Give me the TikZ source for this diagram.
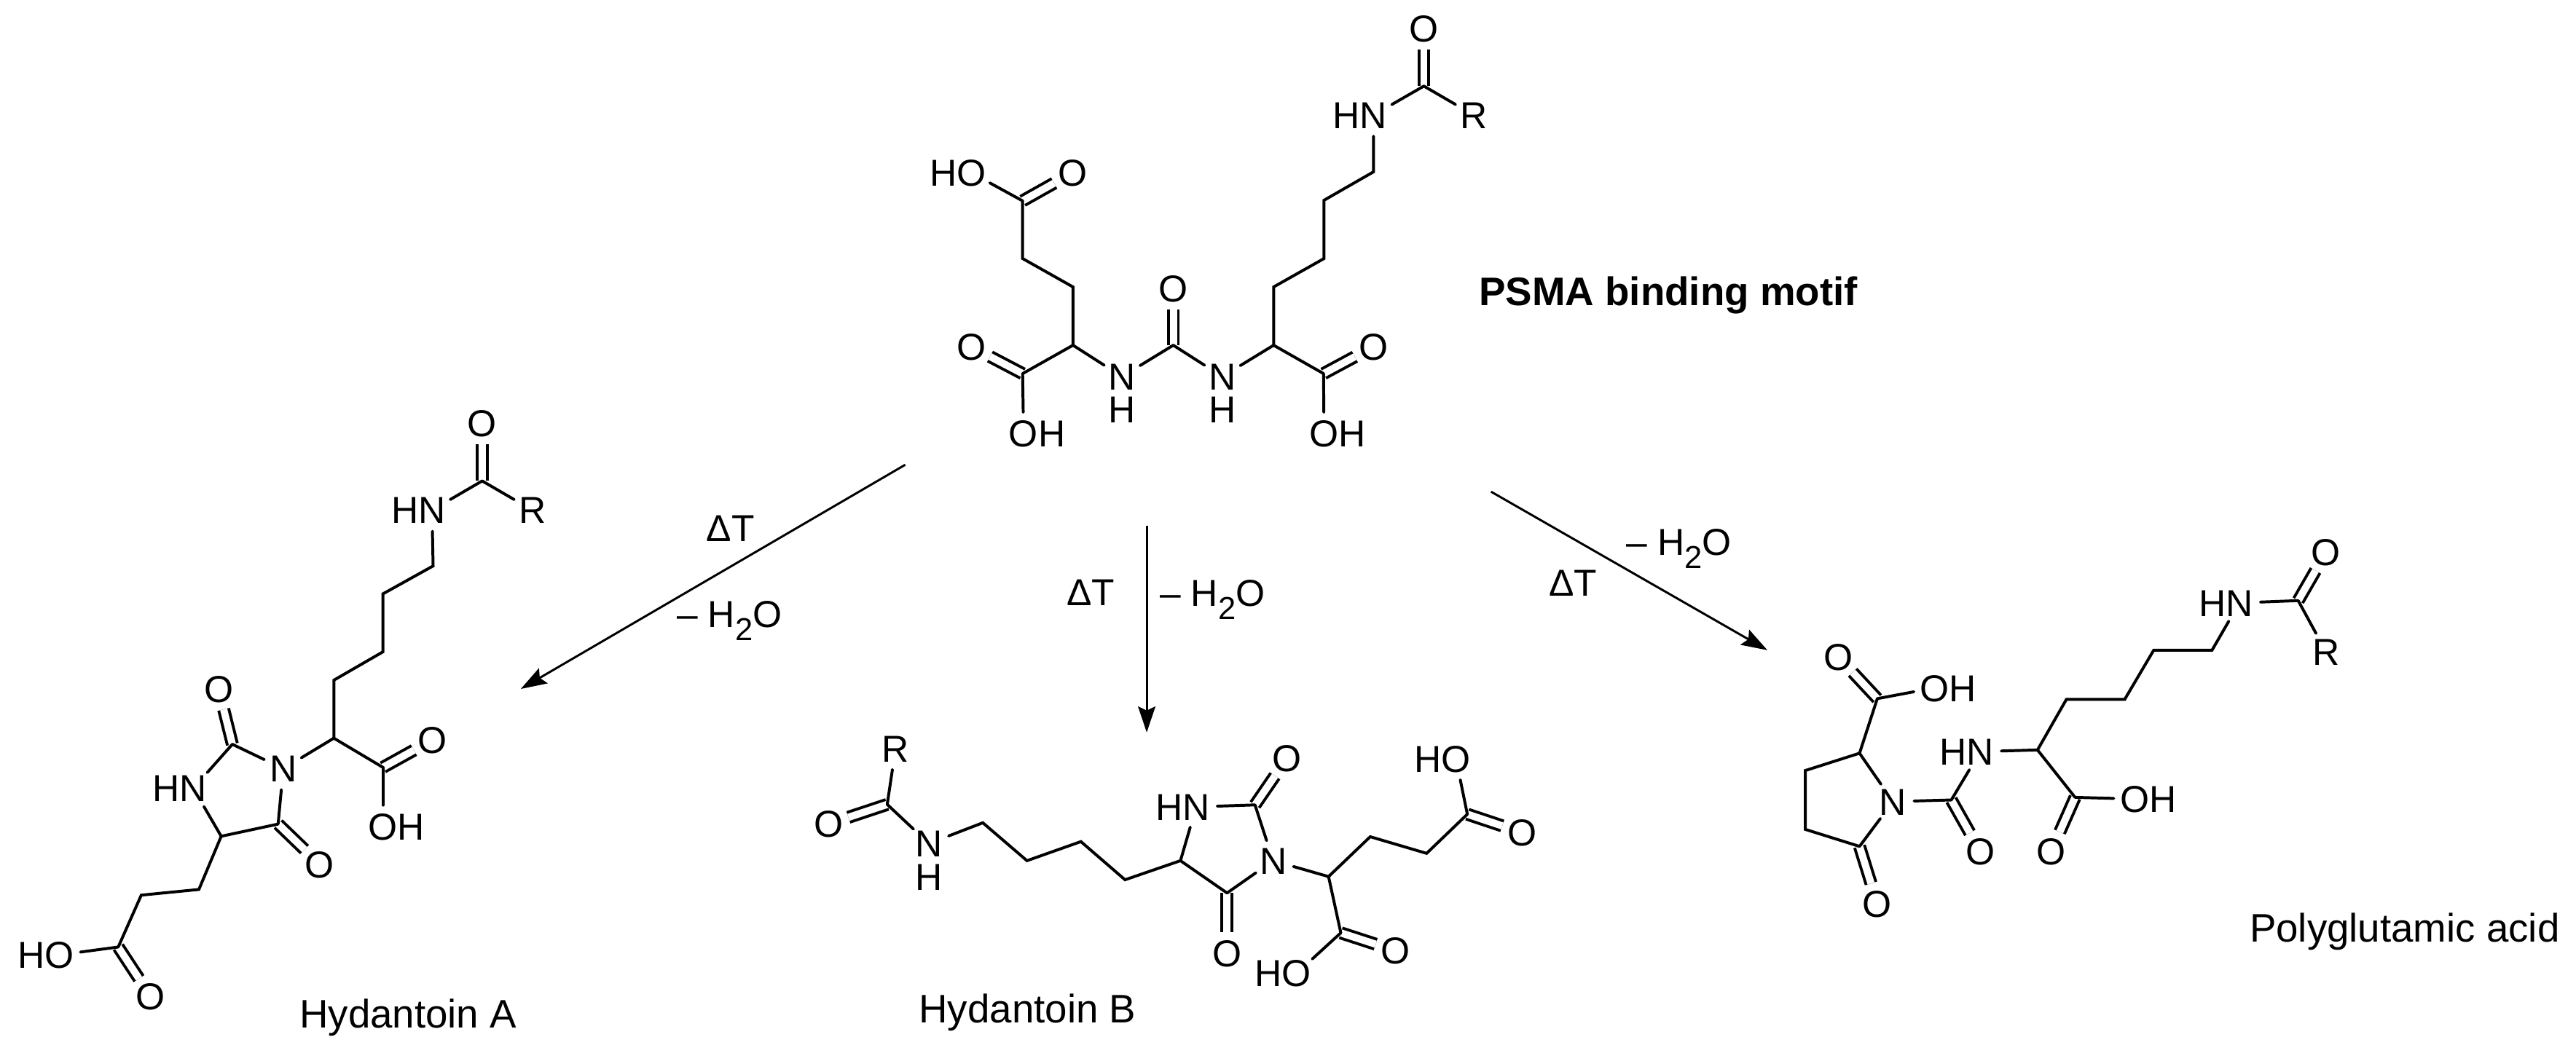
\documentclass[tikz,border=0pt]{standalone}
\usepackage{fontspec}
\setmainfont{Liberation Sans}
\usetikzlibrary{arrows.meta}
\newcommand{\watersub}{H\raisebox{-0.35em}{\fontsize{11}{11}\selectfont 2}O}
\tikzset{
  x=0.02cm, y=-0.02cm,
  atom/.style={circle, inner sep=0pt, minimum size=0.5cm, font=\fontsize{13}{13}\selectfont, text height=9.3pt, text depth=0pt},
  bond/.style={line width=1pt, line cap=round},
  dbl/.style={line width=1pt, double, double distance=2.5pt, line cap=butt},
  rxn/.style={line width=0.75pt, -{Stealth[length=9pt,width=6pt,inset=1.4pt]}},
  cond/.style={inner sep=0pt, font=\fontsize{13}{13}\selectfont},
  caption/.style={inner sep=0pt, font=\fontsize{13.8}{14}\selectfont, anchor=base west},
  mol/.style n args={4}{x=#1*0.02cm, y=-#2*0.02cm, shift={(#3*0.02cm,-#4*0.02cm)}}
}
\begin{document}
\begin{tikzpicture}
\useasboundingbox (0,0) rectangle (1568,636);

% ---------- PSMA binding motif
\begin{scope}[mol={0.284}{0.182}{554.3}{0}]
\node[atom] (aO1) at (1100,95) {O};
\node[atom] (aN1) at (992,385) {\llap{H}N};
\node[atom] (aR) at (1207,385) {R};
\node[atom] (aO2) at (992,1160) {O};
\node[atom] (aOH2) at (886,1450) {O\rlap{H}};
\node[atom] (aN2) at (668,1260) {N};
\node[atom] (aH2) at (668,1370) {H};
\node[atom] (aO3) at (563,965) {O};
\node[atom] (aN3) at (453,1260) {N};
\node[atom] (aH3) at (453,1370) {H};
\node[atom] (aO4) at (347,578) {O};
\node[atom] (aOH4) at (130,578) {\llap{H}O};
\node[atom] (aO5) at (130,1160) {O};
\node[atom] (aOH5) at (242,1450) {O\rlap{H}};
\coordinate (aC1) at (1100,288);
\coordinate (ac2) at (992,575);
\coordinate (ac3) at (886,670);
\coordinate (ac4) at (886,865);
\coordinate (ac5) at (778,960);
\coordinate (ac6) at (778,1155);
\coordinate (ac7) at (885,1250);
\coordinate (ac8) at (563,1155);
\coordinate (ac9) at (348,1155);
\coordinate (ac10) at (348,960);
\coordinate (ac11) at (240,865);
\coordinate (ac12) at (240,672);
\coordinate (ac13) at (240,1250);
\draw[dbl] (aC1) -- (aO1);
\draw[dbl] (ac7) -- (aO2);
\draw[dbl] (ac8) -- (aO3);
\draw[dbl] (ac12) -- (aO4);
\draw[dbl] (ac13) -- (aO5);
\draw[bond] (aN1) -- (aC1);
\draw[bond] (aC1) -- (aR);
\draw[bond] (aN1) -- (ac2) -- (ac3) -- (ac4) -- (ac5) -- (ac6) -- (ac7);
\draw[bond] (ac7) -- (aOH2);
\draw[bond] (ac6) -- (aN2);
\draw[bond] (aN2) -- (ac8);
\draw[bond] (ac8) -- (aN3);
\draw[bond] (aN3) -- (ac9);
\draw[bond] (ac9) -- (ac10) -- (ac11) -- (ac12);
\draw[bond] (ac12) -- (aOH4);
\draw[bond] (ac9) -- (ac13);
\draw[bond] (ac13) -- (aOH5);
\end{scope}

% ---------- Hydantoin A
\begin{scope}[mol={0.2263}{0.2655}{0}{221.7}]
\node[atom] (bO1) at (1297,135) {O};
\node[atom] (bN1) at (1162,335) {\llap{H}N};
\node[atom] (bR) at (1432,335) {R};
\node[atom] (bO2) at (1163,862) {O};
\node[atom] (bOH2) at (1030,1060) {O\rlap{H}};
\node[atom] (bN2) at (762,928) {N};
\node[atom] (bO3) at (588,745) {O};
\node[atom] (bN3) at (520,973) {\llap{H}N};
\node[atom] (bO4) at (860,1147) {O};
\node[atom] (bOH5) at (160,1355) {\llap{H}O};
\node[atom] (bO5) at (405,1450) {O};
\coordinate (bC1) at (1297,268);
\coordinate (bc2) at (1165,463);
\coordinate (bc3) at (1030,527);
\coordinate (bc4) at (1030,660);
\coordinate (bc5) at (898,725);
\coordinate (bc6) at (898,858);
\coordinate (bc7) at (1030,925);
\coordinate (bc8) at (625,872);
\coordinate (bc9) at (595,1083);
\coordinate (bc10) at (748,1055);
\coordinate (bc11) at (535,1205);
\coordinate (bc12) at (380,1218);
\coordinate (bc13) at (318,1337);
\draw[dbl] (bC1) -- (bO1);
\draw[dbl] (bc7) -- (bO2);
\draw[dbl] (bc8) -- (bO3);
\draw[dbl] (bc10) -- (bO4);
\draw[dbl] (bc13) -- (bO5);
\draw[bond] (bN1) -- (bC1);
\draw[bond] (bC1) -- (bR);
\draw[bond] (bN1) -- (bc2) -- (bc3) -- (bc4) -- (bc5) -- (bc6) -- (bc7);
\draw[bond] (bc7) -- (bOH2);
\draw[bond] (bc6) -- (bN2);
\draw[bond] (bN2) -- (bc8);
\draw[bond] (bc8) -- (bN3);
\draw[bond] (bN3) -- (bc9);
\draw[bond] (bc9) -- (bc10);
\draw[bond] (bc10) -- (bN2);
\draw[bond] (bc9) -- (bc11) -- (bc12) -- (bc13);
\draw[bond] (bc13) -- (bOH5);
\end{scope}

% ---------- Hydantoin B
\begin{scope}[mol={0.2985}{0.149}{487.8}{421.3}]
\node[atom] (cR) at (192,232) {R};
\node[atom] (cO1) at (55,540) {O};
\node[atom] (cN1) at (260,620) {N};
\node[atom] (cH1) at (260,755) {H};
\node[atom] (cN2) at (805,470) {\llap{H}N};
\node[atom] (cO2) at (990,272) {O};
\node[atom] (cN3) at (962,690) {N};
\node[atom] (cO3) at (868,1068) {O};
\node[atom] (cO4) at (1212,1058) {O};
\node[atom] (cOH4) at (1010,1150) {\llap{H}O};
\node[atom] (cO5) at (1470,575) {O};
\node[atom] (cOH5) at (1335,275) {\llap{H}O};
\coordinate (cC1) at (175,460);
\coordinate (cc2) at (370,535);
\coordinate (cc3) at (460,690);
\coordinate (cc4) at (570,612);
\coordinate (cc5) at (660,768);
\coordinate (cc6) at (773,690);
\coordinate (cc7) at (925,462);
\coordinate (cc8) at (868,822);
\coordinate (cc9) at (1075,755);
\coordinate (cc10) at (1100,985);
\coordinate (cc11) at (1160,592);
\coordinate (cc12) at (1275,660);
\coordinate (cc13) at (1358,500);
\draw[dbl] (cC1) -- (cO1);
\draw[dbl] (cc7) -- (cO2);
\draw[dbl] (cc8) -- (cO3);
\draw[dbl] (cc10) -- (cO4);
\draw[dbl] (cc13) -- (cO5);
\draw[bond] (cR) -- (cC1);
\draw[bond] (cC1) -- (cN1);
\draw[bond] (cN1) -- (cc2) -- (cc3) -- (cc4) -- (cc5) -- (cc6);
\draw[bond] (cc6) -- (cN2);
\draw[bond] (cN2) -- (cc7);
\draw[bond] (cc7) -- (cN3);
\draw[bond] (cN3) -- (cc8);
\draw[bond] (cc8) -- (cc6);
\draw[bond] (cN3) -- (cc9);
\draw[bond] (cc9) -- (cc10);
\draw[bond] (cc10) -- (cOH4);
\draw[bond] (cc9) -- (cc11) -- (cc12) -- (cc13);
\draw[bond] (cc13) -- (cOH5);
\end{scope}

% ---------- Polyglutamic acid
\begin{scope}[mol={0.3087}{0.199}{1086.5}{310.4}]
\node[atom] (dO1) at (1067,130) {O};
\node[atom] (dN1) at (896,285) {\llap{H}N};
\node[atom] (dR) at (1067,435) {R};
\node[atom] (dN2) at (385,740) {\llap{H}N};
\node[atom] (dO2) at (385,1045) {O};
\node[atom] (dN3) at (213,893) {N};
\node[atom] (dO3) at (182,1205) {O};
\node[atom] (dO4) at (105,450) {O};
\node[atom] (dOH4) at (295,545) {O\rlap{H}};
\node[atom] (dOH5) at (690,885) {O\rlap{H}};
\node[atom] (dO5) at (525,1045) {O};
\coordinate (dC1) at (1012,278);
\coordinate (dc2) at (842,430);
\coordinate (dc3) at (727,430);
\coordinate (dc4) at (670,580);
\coordinate (dc5) at (555,580);
\coordinate (dc6) at (498,735);
\coordinate (dc7) at (328,888);
\coordinate (dc8) at (147,745);
\coordinate (dc9) at (40,798);
\coordinate (dc10) at (40,978);
\coordinate (dc11) at (147,1030);
\coordinate (dc12) at (182,578);
\coordinate (dc13) at (572,880);
\draw[dbl] (dC1) -- (dO1);
\draw[dbl] (dc7) -- (dO2);
\draw[dbl] (dc11) -- (dO3);
\draw[dbl] (dc12) -- (dO4);
\draw[dbl] (dc13) -- (dO5);
\draw[bond] (dN1) -- (dC1);
\draw[bond] (dC1) -- (dR);
\draw[bond] (dN1) -- (dc2) -- (dc3) -- (dc4) -- (dc5) -- (dc6);
\draw[bond] (dc6) -- (dN2);
\draw[bond] (dN2) -- (dc7);
\draw[bond] (dc7) -- (dN3);
\draw[bond] (dN3) -- (dc8);
\draw[bond] (dc8) -- (dc9) -- (dc10) -- (dc11);
\draw[bond] (dc11) -- (dN3);
\draw[bond] (dc8) -- (dc12);
\draw[bond] (dc12) -- (dOH4);
\draw[bond] (dc6) -- (dc13);
\draw[bond] (dc13) -- (dOH5);
\end{scope}

% ---------- reaction arrows
\coordinate (s1) at (551,283);
\coordinate (t1) at (317,419.5);
\coordinate (s2) at (698,320);
\coordinate (t2) at (698,446);
\coordinate (s3) at (907.6,299.4);
\coordinate (t3) at (1075.8,395.9);
\draw[rxn] (s1) -- (t1);
\draw[rxn] (s2) -- (t2);
\draw[rxn] (s3) -- (t3);

\node[cond] (dt1) at (444.6,322) {ΔT};
\node[cond] (w1) at (444,378) {– \watersub};
\node[cond] (dt2) at (664,361) {ΔT};
\node[cond] (w2) at (738,365) {– \watersub};
\node[cond] (dt3) at (957.6,355) {ΔT};
\node[cond] (w3) at (1022,334) {– \watersub};

% ---------- captions
\node[caption, font=\fontsize{13.8}{14}\selectfont\bfseries] (lab0) at (900,186) {PSMA binding motif};
\node[caption] (lab1) at (182,626) {Hydantoin A};
\node[caption] (lab2) at (559,623) {Hydantoin B};
\node[caption] (lab3) at (1369,573.5) {Polyglutamic acid};
\end{tikzpicture}
\end{document}
